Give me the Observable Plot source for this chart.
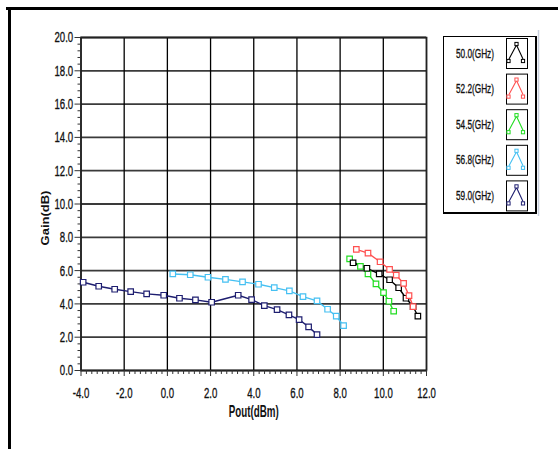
<!DOCTYPE html>
<html><head><meta charset="utf-8">
<script src="https://cdn.jsdelivr.net/npm/d3@7"></script>
<script src="https://cdn.jsdelivr.net/npm/@observablehq/plot@0.6"></script>
<style>
body{margin:0;background:#fff;}
#wrap{position:relative;width:558px;height:449px;overflow:hidden;background:#fff;}
#wrap > svg{position:absolute;left:0;top:0;}
</style></head><body><div id="wrap"></div>
<script>
// ---- data ----
const freqLabels = ["50.0(GHz)", "52.2(GHz)", "54.5(GHz)", "56.8(GHz)", "59.0(GHz)"];
const pout50 = [8.6, 9.24, 9.81, 10.29, 10.71, 11.05, 11.38, 11.6];
const gain50 = [6.47, 6.14, 5.8, 5.45, 4.97, 4.34, 3.84, 3.26];
const pout52 = [8.75, 9.29, 9.85, 10.29, 10.6, 10.94, 11.19, 11.38];
const gain52 = [7.27, 7.05, 6.53, 6.07, 5.73, 5.23, 4.5, 3.84];
const pout54 = [8.44, 8.94, 9.29, 9.66, 10.01, 10.26, 10.48];
const gain54 = [6.7, 6.25, 5.8, 5.2, 4.68, 4.16, 3.56];
const pout56 = [0.25, 1.06, 1.88, 2.69, 3.48, 4.22, 4.95, 5.65, 6.28, 6.93, 7.42, 7.82, 8.16];
const gain56 = [5.8, 5.75, 5.6, 5.47, 5.32, 5.18, 4.98, 4.78, 4.44, 4.18, 3.68, 3.26, 2.7];
const pout59 = [-3.9, -3.18, -2.44, -1.7, -0.96, -0.17, 0.56, 1.3, 2.05, 3.28, 3.9, 4.49, 5.08, 5.63, 6.1, 6.54, 6.93];
const gain59 = [5.3, 5.06, 4.88, 4.74, 4.6, 4.52, 4.34, 4.24, 4.1, 4.52, 4.26, 3.9, 3.66, 3.34, 3.06, 2.62, 2.16];
const xTicks = [-4, -2, 0, 2, 4, 6, 8, 10, 12];
const yTicks = [0, 2, 4, 6, 8, 10, 12, 14, 16, 18, 20];
const xTitle = "Pout(dBm)";
const yTitle = "Gain(dB)";

// ---- styles ----
const colors = ["#000000", "#ff5050", "#22dd22", "#45c0f2", "#1e1e70"];
const font = "'Liberation Sans', Arial, sans-serif";
const K = 0.62; // horizontal squeeze of the lettering

const seriesX = [pout50, pout52, pout54, pout56, pout59];
const seriesY = [gain50, gain52, gain54, gain56, gain59];
const rows = [];
seriesX.forEach((xs, s) => xs.forEach((x, i) => rows.push({s, label: freqLabels[s], x, y: seriesY[s][i]})));
const drawOrder = [4, 3, 2, 0, 1];
const ordered = drawOrder.flatMap(s => rows.filter(r => r.s === s));

const isMajor = v => Math.abs(v / 2 - Math.round(v / 2)) < 1e-6;
const xMinor = d3.range(-16, 49).map(i => i * 0.25).filter(v => !isMajor(v));
const yMinor = d3.range(0, 51).map(i => +(i * 0.4).toFixed(2)).filter(v => !isMajor(v));

const chart = Plot.plot({
  width: 558, height: 449,
  marginLeft: 80.5, marginRight: 132, marginTop: 37, marginBottom: 79,
  x: {domain: [-4, 12]},
  y: {domain: [0, 20]},
  style: {fontFamily: font, fontSize: "15px", color: "#111", background: "transparent"},
  marks: [
    Plot.ruleY(yTicks, {stroke: "#3a3a3a", strokeWidth: 1.8}),
    Plot.ruleX(xTicks, {stroke: "#000", strokeWidth: 1.3}),
    Plot.frame({stroke: "#222", strokeWidth: 1.6}),
    Plot.axisY(yTicks, {label: null, tickSize: 6, tickPadding: 2, tickFormat: d => d.toFixed(1), stroke: "#333", fill: "#111", fontFamily: font, fontSize: 15.5}),
    Plot.axisY(yMinor, {label: null, tickSize: 3, tickFormat: () => "", stroke: "#333"}),
    Plot.axisX(xTicks, {label: null, tickSize: 6, tickPadding: 10, tickFormat: d => d.toFixed(1), stroke: "#333", fill: "#111", fontFamily: font, fontSize: 15.5}),
    Plot.axisX(xMinor, {label: null, tickSize: 4, tickFormat: () => "", stroke: "#333"}),
    Plot.line(ordered, {x: "x", y: "y", z: "s", stroke: d => colors[d.s], strokeWidth: 1.4}),
    Plot.dot(ordered, {x: "x", y: "y", symbol: "square", r: 3.1, fill: "white", stroke: d => colors[d.s], strokeWidth: 1.2}),
    Plot.text([yTitle], {frameAnchor: "left", textAnchor: "middle", dx: -35, dy: 14, rotate: -90, fontWeight: "bold", fontFamily: font, fontSize: 13, fill: "#111"}),
    Plot.text([xTitle], {frameAnchor: "bottom", dy: 46, fontWeight: "bold", fontFamily: font, fontSize: 15.8, fill: "#111"})
  ]
});
chart.style.position = "absolute";
const wrap = document.getElementById("wrap");
wrap.appendChild(chart);

// ---- outer frame and legend overlay ----
const ov = d3.select("#wrap").append("svg").attr("width", 558).attr("height", 449)
  .style("position", "absolute").style("left", 0).style("top", 0).style("pointer-events", "none");
ov.append("rect").attr("x", 6).attr("y", 7).attr("width", 552).attr("height", 3).attr("fill", "#000");
ov.append("rect").attr("x", 8).attr("y", 7).attr("width", 3).attr("height", 442).attr("fill", "#000");

ov.append("line").attr("x1", 538.5).attr("x2", 538.5).attr("y1", 30).attr("y2", 216).attr("stroke", "#c9d0de").attr("stroke-width", 1.5);
ov.append("rect").attr("x", 443.5).attr("y", 36.5).attr("width", 92).attr("height", 176).attr("fill", "none").attr("stroke", "#000").attr("stroke-width", 1);
ov.append("line").attr("x1", 536).attr("x2", 536).attr("y1", 36).attr("y2", 214).attr("stroke", "#000").attr("stroke-width", 2);
ov.append("line").attr("x1", 443).attr("x2", 537).attr("y1", 213).attr("y2", 213).attr("stroke", "#000").attr("stroke-width", 2);

freqLabels.forEach((lab, i) => {
  const cy = 53 + i * 35.6;
  ov.append("text").attr("x", 475).attr("y", cy).attr("dy", "0.35em").attr("text-anchor", "middle")
    .attr("font-family", font).attr("font-size", 13.3).attr("fill", "#111").text(lab);
  const bx = 506, by = cy - 15;
  ov.append("rect").attr("x", bx + 0.5).attr("y", by + 0.5).attr("width", 21).attr("height", 30)
    .attr("fill", "white").attr("stroke", "#000").attr("stroke-width", 1);
  const c = colors[i];
  ov.append("polyline").attr("points", `${bx+3},${by+21} ${bx+10.5},${by+7} ${bx+17},${by+21}`)
    .attr("fill", "none").attr("stroke", c).attr("stroke-width", 1.1);
  [[bx+2.5, by+23], [bx+10.5, by+6], [bx+17, by+23]].forEach(([mx, my]) => {
    ov.append("rect").attr("x", mx - 1.6).attr("y", my - 1.6).attr("width", 3.2).attr("height", 3.2)
      .attr("fill", "white").attr("stroke", c).attr("stroke-width", 1);
  });
});

// squeeze lettering horizontally (on screen) like the reference
function squeeze(root) {
  root.querySelectorAll("text").forEach(t => {
    if (!t.textContent) return;
    const bb = t.getBBox();
    const m = t.getCTM();
    const tr = t.getAttribute("transform") || "";
    if (m && Math.abs(m.b) > 0.5) {
      const cy = bb.y + bb.height / 2;
      t.setAttribute("transform", `${tr} translate(0,${cy}) scale(1,0.85) translate(0,${-cy})`);
    } else {
      const a = getComputedStyle(t).textAnchor;
      const ax = a === "middle" ? bb.x + bb.width / 2 : a === "end" ? bb.x + bb.width : bb.x;
      t.setAttribute("transform", `${tr} translate(${ax},0) scale(${K},1) translate(${-ax},0)`);
    }
    if (getComputedStyle(t).fontWeight < 600) {
      t.style.stroke = "#111";
      t.style.strokeWidth = "0.35px";
    }
  });
}
squeeze(chart);
squeeze(ov.node());
</script>
</body></html>
